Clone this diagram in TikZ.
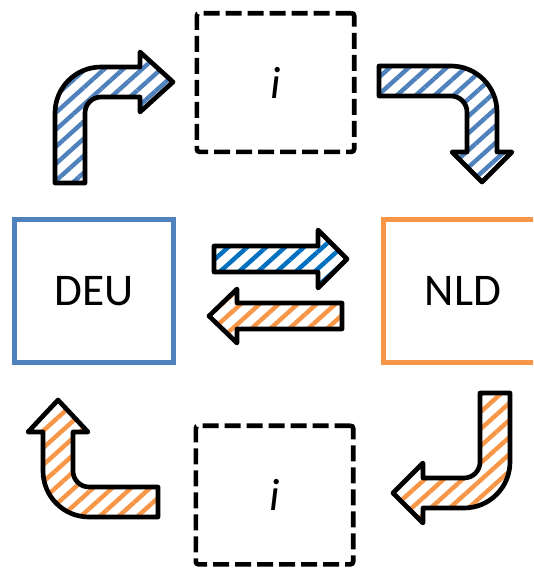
\documentclass[tikz,border=0pt]{standalone}
\usepackage{fontspec}
\setmainfont{Carlito}
\usetikzlibrary{patterns.meta}
\definecolor{deublue}{RGB}{79,129,189}
\definecolor{flowblue}{RGB}{0,112,192}
\definecolor{nldorange}{RGB}{247,150,70}
\tikzset{
	country/.style={draw, rectangle, line width=3.5pt, minimum width=119pt, minimum height=107pt, font=\fontsize{34}{40}\selectfont},
	slot/.style={draw, rectangle, line width=3.5pt, dash pattern=on 12pt off 4.5pt, rounded corners=2pt, minimum width=118pt, minimum height=104pt, font=\fontsize{34}{40}\selectfont\itshape},
	% hatched block arrows
	flow/.style={draw, line width=3.5pt, line join=round, pattern={Lines[angle=42, distance=9.5pt, line width=3.3pt]}, pattern color=#1},
}

\begin{document}
\begin{tikzpicture}[x=0.75pt, y=-0.75pt]
	\useasboundingbox (0,0) rectangle (533,572);
	\clip (0,0) rectangle (533,572);
	
	\node (deu) [country, draw=deublue] at (94,291) {DEU};
	\node (nld) [country, draw=nldorange] at (463,291) {NLD};
	\node (itop) [slot] at (275.5,82.5) {i};
	\node (ibot) [slot] at (274.5,495) {i};
	
	% DEU -> i -> NLD
	\draw[flow=deublue] (55,183) -- (55,113) arc[start angle=180, end angle=270, radius=46]
		-- (140,67) -- (140,52) -- (173,82) -- (140,112) -- (140,97) -- (101,97)
		arc[start angle=270, end angle=180, radius=16] -- (85,183) -- cycle;
	\draw[flow=deublue] (379,66) -- (451,66) arc[start angle=270, end angle=360, radius=46]
		-- (497,152) -- (512,152) -- (482,182) -- (452,152) -- (467,152) -- (467,112)
		arc[start angle=0, end angle=-90, radius=16] -- (379,96) -- cycle;
	
	% NLD -> i -> DEU
	\draw[flow=nldorange] (510,393) -- (510,462) arc[start angle=0, end angle=90, radius=46]
		-- (423,508) -- (423,523) -- (393,493) -- (423,463) -- (423,478) -- (464,478)
		arc[start angle=90, end angle=0, radius=16] -- (480,393) -- cycle;
	\draw[flow=nldorange] (158,517) -- (89,517) arc[start angle=90, end angle=180, radius=46]
		-- (43,432) -- (28,432) -- (58,400) -- (88,432) -- (73,432) -- (73,471)
		arc[start angle=180, end angle=90, radius=16] -- (158,487) -- cycle;
	
	% direct exchange
	\draw[flow=flowblue] (214,246) -- (318,246) -- (318,230) -- (347,259) -- (318,288)
		-- (318,272) -- (214,272) -- cycle;
	\draw[flow=nldorange] (342,303) -- (237,303) -- (237,289) -- (209,316) -- (237,343)
		-- (237,329) -- (342,329) -- cycle;
\end{tikzpicture}
\end{document}
